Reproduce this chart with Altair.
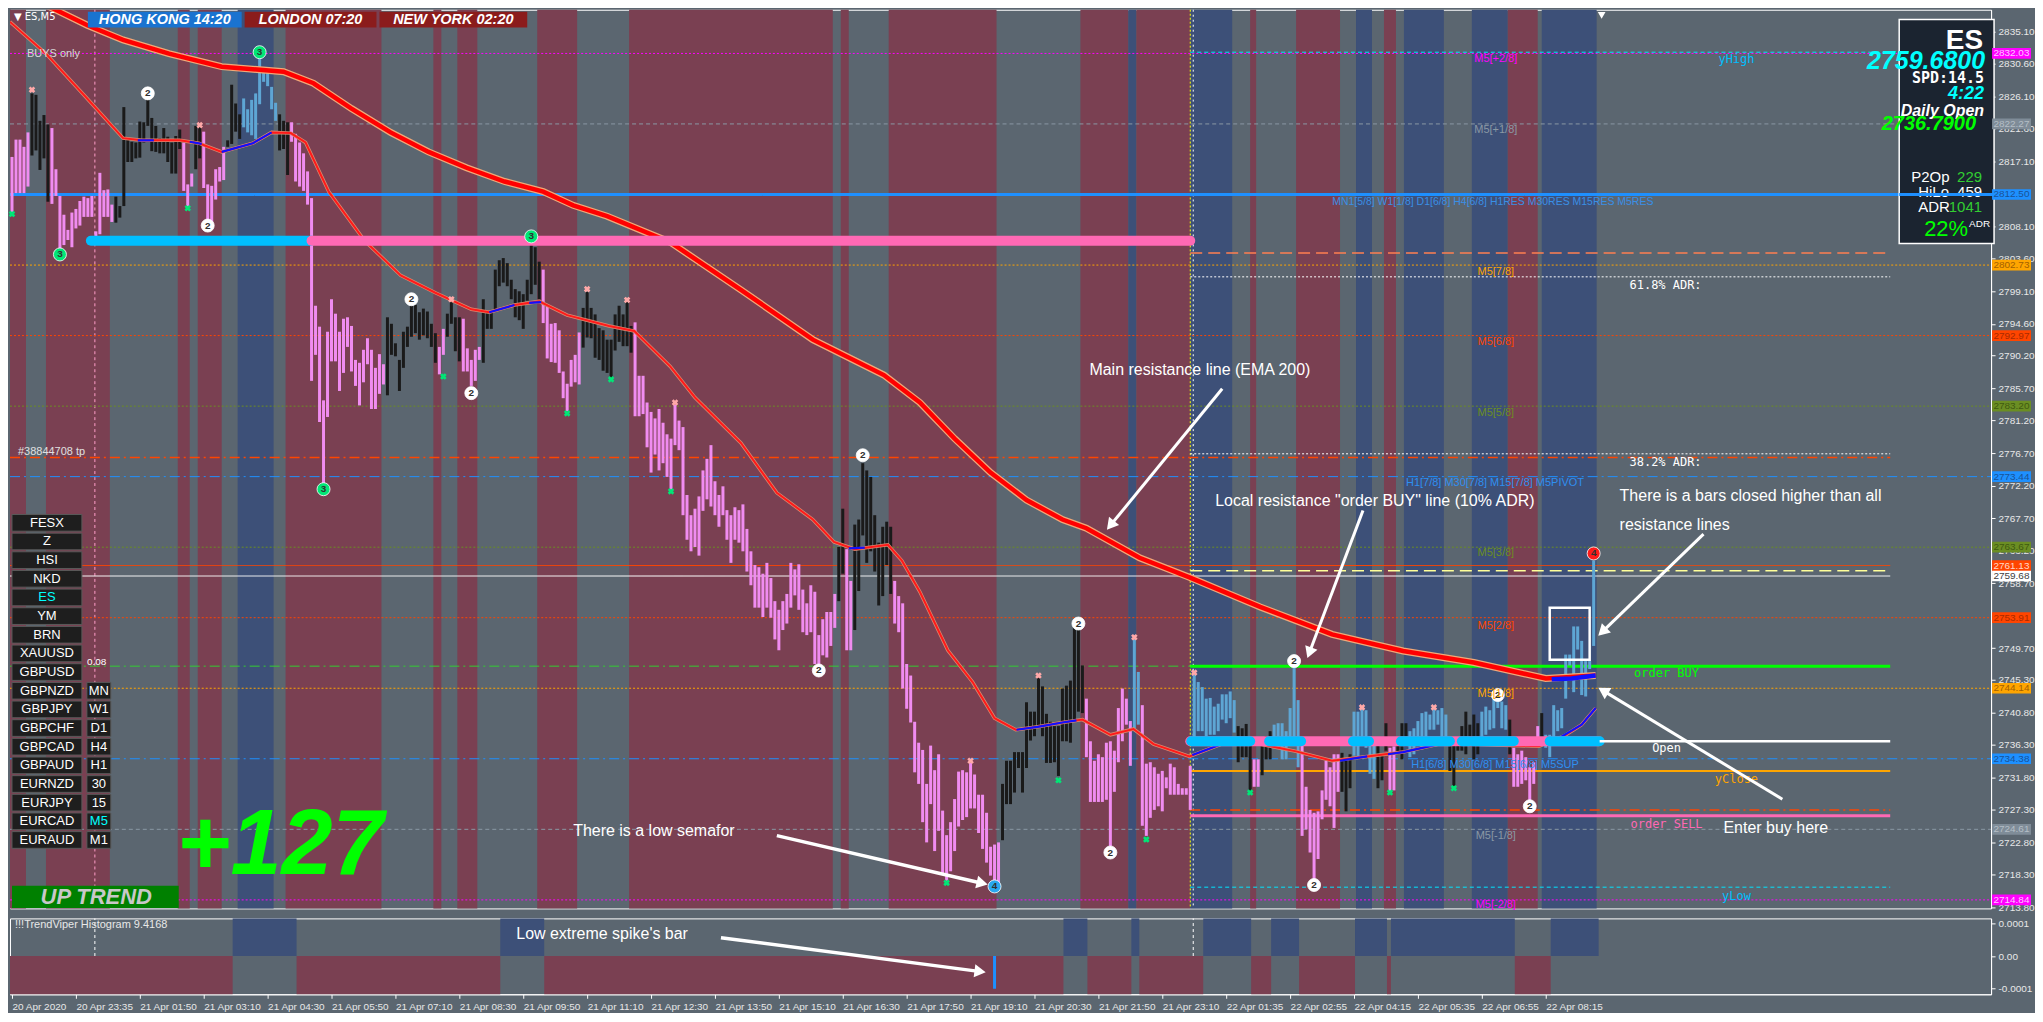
import json
import math
import altair as alt
import pandas as pd

# ------------------------------------------------------------------ data
HIGH = [
    2817.7, 2820.1, 2820.1, 2819.1, 2821.1, 2826.5, 2826.3, 2822.7, 2823.5, 2822.2,
    2821.7, 2816.0, 2812.3, 2809.7, 2807.6, 2810.0, 2810.5, 2811.6, 2812.2, 2812.0,
    2812.3, 2807.4, 2815.5, 2813.1, 2813.2, 2811.1, 2812.2, 2810.9, 2824.6, 2820.3,
    2819.8, 2819.7, 2822.6, 2822.5, 2826.7, 2823.1, 2822.0, 2820.3, 2821.7, 2820.5,
    2819.7, 2820.6, 2821.5, 2819.7, 2813.9, 2815.4, 2822.0, 2822.2, 2821.2, 2813.9,
    2813.7, 2816.0, 2816.3, 2819.1, 2820.0, 2827.7, 2825.1, 2823.6, 2825.8, 2824.3,
    2825.6, 2826.5, 2831.5, 2829.7, 2829.7, 2827.4, 2825.2, 2823.6, 2822.7, 2822.5,
    2822.5, 2820.9, 2819.7, 2818.2, 2815.7, 2812.0, 2797.1, 2794.2, 2784.0, 2793.5,
    2798.0, 2796.0, 2793.5, 2795.3, 2795.5, 2794.3, 2789.6, 2789.2, 2791.0, 2792.6,
    2791.0, 2788.5, 2790.4, 2789.0, 2795.5, 2794.6, 2791.9, 2789.6, 2793.5, 2794.2,
    2797.1, 2797.2, 2796.2, 2796.7, 2796.3, 2794.6, 2793.3, 2791.4, 2793.9, 2796.0,
    2797.6, 2795.5, 2795.5, 2795.3, 2791.2, 2789.6, 2791.0, 2791.4, 2798.0, 2796.4,
    2796.4, 2802.1, 2803.4, 2803.7, 2803.0, 2800.7, 2799.4, 2799.1, 2798.7, 2800.7,
    2805.5, 2805.2, 2803.2, 2802.1, 2797.0, 2794.6, 2794.7, 2793.7, 2788.0, 2786.3,
    2789.6, 2790.3, 2793.4, 2796.8, 2799.0, 2796.8, 2795.9, 2794.0, 2793.7, 2792.4,
    2792.4, 2795.9, 2797.1, 2795.9, 2797.7, 2794.3, 2794.8, 2787.4, 2787.4, 2783.7,
    2782.4, 2781.5, 2782.8, 2780.9, 2779.3, 2778.7, 2783.4, 2781.2, 2780.3, 2770.9,
    2768.1, 2769.0, 2770.7, 2774.3, 2775.9, 2777.8, 2772.8, 2770.9, 2772.1, 2768.8,
    2768.1, 2769.2, 2768.8, 2769.6, 2766.2, 2763.1, 2761.2, 2760.9, 2760.0, 2761.5,
    2759.4, 2756.2, 2755.0, 2756.2, 2757.2, 2761.5, 2760.6, 2761.3, 2757.8, 2755.9,
    2758.4, 2757.5, 2751.5, 2753.7, 2754.7, 2754.7, 2757.2, 2763.7, 2769.0, 2763.4,
    2759.0, 2766.8, 2767.5, 2775.3, 2774.3, 2773.4, 2768.1, 2764.3, 2766.5, 2767.2,
    2766.5, 2759.0, 2756.9, 2755.9, 2747.5, 2745.9, 2739.5, 2736.6, 2735.6, 2730.9,
    2736.2, 2732.8, 2735.0, 2727.2, 2723.8, 2725.6, 2728.8, 2732.6, 2732.8, 2732.5,
    2733.8, 2732.2, 2729.4, 2729.4, 2726.9, 2722.2, 2722.5, 2722.8, 2730.9, 2734.1,
    2734.1, 2735.3, 2735.3, 2735.3, 2742.2, 2740.9, 2740.9, 2745.6, 2744.4, 2740.6,
    2739.5, 2738.9, 2738.9, 2744.1, 2744.5, 2745.2, 2752.7, 2752.5, 2747.3, 2742.7,
    2736.8, 2734.1, 2735.0, 2734.6, 2736.6, 2736.8, 2735.5, 2741.4, 2744.1, 2742.7,
    2739.6, 2751.1, 2746.4, 2741.8, 2733.7, 2733.9, 2733.2, 2732.3, 2732.7, 2731.8,
    2733.7, 2733.2, 2730.9, 2730.3, 2730.3, 2733.4, 2746.6, 2745.0, 2744.3, 2742.7,
    2742.8, 2741.6, 2742.0, 2743.3, 2743.3, 2743.7, 2742.5, 2738.9, 2738.6, 2739.2,
    2736.8, 2734.3, 2734.3, 2736.4, 2737.5, 2738.2, 2739.1, 2739.3, 2739.3, 2738.2,
    2741.4, 2747.3, 2742.5, 2736.8, 2730.5, 2727.3, 2726.9, 2727.1, 2730.0, 2734.1,
    2733.2, 2735.0, 2735.0, 2735.2, 2734.3, 2735.0, 2740.9, 2740.9, 2741.4, 2741.1,
    2737.5, 2736.6, 2736.4, 2735.0, 2739.3, 2735.9, 2736.1, 2737.0, 2739.3, 2739.3,
    2738.2, 2738.6, 2739.6, 2740.7, 2740.9, 2740.5, 2741.4, 2741.1, 2741.4, 2740.5,
    2736.1, 2736.8, 2737.0, 2738.9, 2740.9, 2739.1, 2740.5, 2739.3, 2740.9, 2741.6,
    2741.1, 2742.7, 2743.2, 2742.3, 2741.8, 2739.8, 2735.9, 2735.0, 2735.5, 2734.6,
    2733.2, 2733.9, 2738.9, 2740.7, 2737.7, 2737.7, 2741.8, 2741.1, 2741.4, 2748.8,
    2748.8, 2752.7, 2752.7, 2750.7, 2747.9, 2747.9, 2761.8,
]
LOW = [
    2810.0, 2812.7, 2812.7, 2812.7, 2813.6, 2817.9, 2818.6, 2815.9, 2817.5, 2811.5,
    2811.2, 2812.3, 2804.8, 2805.5, 2806.2, 2805.2, 2807.8, 2808.2, 2809.4, 2809.4,
    2809.4, 2806.4, 2807.0, 2809.4, 2809.4, 2808.7, 2808.6, 2809.3, 2810.9, 2817.0,
    2817.0, 2817.5, 2817.6, 2819.7, 2822.0, 2818.5, 2818.4, 2818.2, 2818.2, 2817.0,
    2815.4, 2815.4, 2818.8, 2813.0, 2810.7, 2813.6, 2816.0, 2817.5, 2813.4, 2808.4,
    2808.4, 2811.8, 2814.3, 2814.5, 2819.1, 2819.5, 2821.2, 2820.2, 2821.8, 2821.1,
    2820.7, 2820.2, 2825.0, 2828.1, 2827.5, 2824.3, 2822.7, 2818.6, 2818.8, 2815.2,
    2819.8, 2814.3, 2813.6, 2813.0, 2811.1, 2786.7, 2790.3, 2781.0, 2772.2, 2781.7,
    2789.4, 2789.4, 2785.3, 2787.8, 2791.4, 2788.0, 2786.0, 2783.3, 2786.5, 2789.0,
    2782.8, 2782.8, 2784.9, 2786.2, 2784.7, 2790.3, 2790.1, 2785.3, 2788.5, 2791.4,
    2792.8, 2793.3, 2792.4, 2793.0, 2792.6, 2791.4, 2789.2, 2787.6, 2790.3, 2792.8,
    2794.6, 2790.8, 2789.4, 2788.0, 2788.0, 2786.0, 2786.7, 2789.6, 2789.2, 2793.9,
    2793.9, 2796.4, 2799.8, 2800.3, 2799.8, 2798.0, 2795.5, 2795.1, 2793.9, 2797.8,
    2798.7, 2800.0, 2798.0, 2794.7, 2789.8, 2789.3, 2789.2, 2787.8, 2784.3, 2782.5,
    2785.9, 2786.5, 2786.2, 2791.3, 2792.7, 2792.6, 2789.9, 2789.6, 2788.1, 2787.8,
    2787.1, 2790.9, 2792.1, 2791.5, 2791.5, 2790.6, 2781.8, 2781.8, 2782.1, 2777.5,
    2774.0, 2776.5, 2774.3, 2775.3, 2773.4, 2771.2, 2777.8, 2777.1, 2768.1, 2764.7,
    2763.1, 2763.7, 2762.5, 2768.7, 2770.3, 2769.3, 2768.1, 2766.5, 2768.1, 2764.7,
    2761.5, 2764.7, 2764.3, 2763.1, 2760.3, 2758.4, 2755.3, 2755.3, 2754.0, 2755.3,
    2753.9, 2750.9, 2749.4, 2752.2, 2753.1, 2755.3, 2757.0, 2755.0, 2751.9, 2751.5,
    2751.9, 2747.5, 2747.2, 2748.7, 2748.4, 2750.0, 2752.5, 2756.2, 2760.0, 2749.4,
    2749.4, 2752.2, 2757.6, 2765.3, 2761.5, 2763.1, 2760.3, 2755.6, 2756.9, 2761.2,
    2757.2, 2753.1, 2751.9, 2744.1, 2741.3, 2739.4, 2732.5, 2730.9, 2725.6, 2722.8,
    2728.1, 2721.6, 2724.4, 2718.5, 2717.5, 2718.8, 2721.6, 2725.0, 2725.9, 2726.3,
    2727.5, 2727.5, 2724.1, 2721.9, 2720.0, 2718.2, 2717.5, 2717.2, 2723.1, 2728.1,
    2728.1, 2729.7, 2733.1, 2729.7, 2733.1, 2736.9, 2737.5, 2738.8, 2737.5, 2733.8,
    2733.8, 2733.9, 2732.0, 2736.8, 2736.8, 2736.6, 2739.6, 2740.9, 2740.7, 2734.6,
    2728.4, 2728.4, 2728.4, 2728.4, 2728.7, 2722.3, 2729.8, 2733.9, 2736.8, 2739.1,
    2733.4, 2738.6, 2739.1, 2725.1, 2723.7, 2726.2, 2727.3, 2727.8, 2727.1, 2730.3,
    2729.4, 2729.4, 2729.4, 2729.4, 2729.4, 2727.3, 2736.4, 2738.2, 2738.2, 2737.5,
    2737.7, 2737.7, 2738.2, 2739.8, 2739.3, 2740.0, 2738.0, 2733.9, 2734.6, 2734.6,
    2729.8, 2730.5, 2730.5, 2732.1, 2734.3, 2734.3, 2735.9, 2736.8, 2734.3, 2734.3,
    2736.8, 2736.6, 2733.2, 2723.7, 2724.6, 2721.4, 2717.3, 2720.5, 2726.0, 2728.7,
    2727.8, 2724.8, 2729.8, 2729.8, 2727.1, 2730.3, 2734.8, 2734.6, 2736.8, 2735.9,
    2732.3, 2731.6, 2730.3, 2731.4, 2735.5, 2729.8, 2730.0, 2735.0, 2734.3, 2736.1,
    2734.6, 2735.0, 2736.4, 2735.7, 2736.8, 2738.4, 2738.4, 2739.1, 2737.1, 2737.1,
    2732.7, 2730.5, 2735.5, 2735.5, 2735.0, 2736.8, 2734.3, 2735.0, 2736.8, 2737.7,
    2738.4, 2738.6, 2741.4, 2738.6, 2738.4, 2735.0, 2730.5, 2730.5, 2730.9, 2731.4,
    2728.4, 2730.9, 2736.8, 2737.3, 2735.9, 2734.6, 2736.8, 2738.2, 2738.6, 2742.7,
    2747.3, 2743.6, 2749.5, 2743.2, 2743.0, 2746.8, 2750.0,
]
# bar kind runs: p = bearish (violet), k = neutral (black), b = bullish (light blue)
KIND_RUNS = [
    ("p", 5), ("k", 5), ("p", 16), ("k", 17), ("p", 3), ("k", 2), ("p", 6), ("k", 4),
    ("b", 9), ("k", 3), ("p", 24), ("k", 13), ("p", 2), ("k", 4), ("p", 5), ("k", 15),
    ("p", 10), ("k", 13), ("p", 51), ("k", 2), ("p", 2), ("k", 10), ("p", 27), ("k", 21),
    ("p", 12), ("b", 2), ("p", 13), ("b", 11), ("k", 4), ("p", 2), ("k", 3), ("b", 7),
    ("p", 10), ("k", 3), ("b", 6), ("k", 3), ("p", 2), ("k", 3), ("b", 10), ("k", 8),
    ("b", 7), ("k", 1), ("p", 7), ("k", 1), ("b", 13),
]

EMA200_X = [8, 19.5, 28.3, 39.8, 53, 61.8, 68.5, 76, 85.5, 95.3, 104.8, 114.3, 123.8,
            133.5, 141, 149.5, 165.3, 183, 201, 218.8, 227.8, 236.5, 245.5, 254.5,
            263.5, 269.5, 282.8, 295.3, 313, 331, 348.8, 366.5, 384.5, 397]
EMA200_Y = [2839.0, 2835.9, 2833.9, 2832.0, 2830.2, 2829.8, 2829.5, 2827.9, 2824.4,
            2821.1, 2818.4, 2816.2, 2814.3, 2812.9, 2811.0, 2809.5, 2805.9, 2799.3,
            2792.4, 2787.5, 2783.7, 2778.7, 2774.0, 2770.2, 2767.5, 2766.3, 2762.2,
            2759.5, 2755.4, 2751.6, 2749.3, 2747.7, 2745.5, 2745.9]
EMA200_BLUE = [(386, 2745.4), (391, 2745.5), (397, 2745.9)]

EMA_X = [0, 9, 18.8, 28.3, 33, 42.5, 47.3, 53, 60.8, 65.5, 70.3, 74, 79.8, 88.8, 97.8,
         106.5, 115.5, 120, 126.3, 132.5, 139.5, 150, 156.3, 165.3, 171.5, 183, 192,
         201, 206.3, 211.5, 219.8, 223.3, 227.8, 234.8, 241, 246.5, 251.8, 257.3,
         263.5, 268.5, 275.5, 281.3, 286.3, 295.3, 303.3, 313, 322, 331, 339.8,
         348.8, 357.8, 366.5, 382.8, 389, 393.5, 397]
EMA_Y = [2836.4, 2832.0, 2826.1, 2820.3, 2820.0, 2820.0, 2819.6, 2818.4, 2819.6,
         2821.1, 2821.0, 2819.7, 2812.9, 2806.1, 2801.3, 2798.9, 2796.6, 2796.2,
         2797.2, 2797.7, 2795.8, 2794.3, 2793.6, 2788.7, 2784.4, 2778.1, 2771.2,
         2767.5, 2764.4, 2763.4, 2764.0, 2761.8, 2757.5, 2749.4, 2745.0, 2740.0,
         2738.4, 2738.8, 2739.4, 2739.8, 2737.7, 2738.5, 2736.4, 2734.7, 2736.4,
         2736.4, 2735.4, 2734.1, 2734.7, 2735.3, 2736.4, 2736.4, 2736.1, 2737.5,
         2739.1, 2741.4]
EMA_BLUE_SEGS = [
    [(32, 2820.0), (36, 2820.0)],
    [(45, 2819.8), (48, 2819.5)],
    [(53, 2818.4), (60.8, 2819.6), (65.5, 2821.1)],
    [(120, 2796.2), (126.3, 2797.2)],
    [(130, 2797.5), (133, 2797.6)],
    [(210, 2763.5), (214, 2763.6)],
    [(252, 2738.4), (257.3, 2738.8), (263.5, 2739.4), (267, 2739.7)],
    [(296, 2734.9), (303.3, 2736.4)],
    [(333, 2734.1), (339.8, 2734.7)],
    [(345, 2735.0), (348.8, 2735.3), (357.8, 2736.4)],
    [(388, 2737.3), (393.5, 2739.1), (397, 2741.4)],
]

# session colour bands (start bar, end bar, state)
BANDS = [(0, 4, "M"), (4, 9, "G"), (9, 25, "M"), (25, 42, "G"), (42, 45, "M"), (45, 47, "G"),
         (47, 53, "M"), (53, 57, "G"), (57, 66, "B"), (66, 69, "G"), (69, 93, "M"),
         (93, 106, "G"), (106, 108, "M"), (108, 112, "G"), (112, 117, "M"), (117, 132, "G"),
         (132, 142, "M"), (142, 155, "G"), (155, 206, "M"), (206, 208, "G"), (208, 210, "M"),
         (210, 220, "G"), (220, 247, "M"), (247, 268, "G"), (268, 280, "M"), (280, 282, "B"),
         (282, 295.5, "M"), (295.5, 306, "B"), (306, 310.5, "G"), (310.5, 312, "M"),
         (312, 322, "G"), (322, 333, "M"), (333, 337, "G"), (337, 341, "B"), (341, 344, "G"),
         (344, 347, "M"), (347, 349, "G"), (349, 359, "B"), (359, 366, "G"), (366, 375, "B"),
         (375, 382.5, "M"), (382.5, 383.5, "G"), (383.5, 397.25, "B")]

HIST_SEG = [(0, 55.75, "dn"), (55.75, 71.75, "up"), (71.75, 122.75, "dn"), (122.75, 133.75, "up"),
            (133.75, 263.75, "dn"), (263.75, 269.75, "up"), (269.75, 280.75, "dn"),
            (280.75, 282.75, "up"), (282.75, 298.75, "dn"), (298.75, 310.75, "up"),
            (310.75, 315.75, "dn"), (315.75, 322.75, "up"), (322.75, 336.75, "dn"),
            (336.75, 344.75, "up"), (344.75, 345.75, "dn"), (345.75, 376.75, "up"),
            (376.75, 385.75, "dn"), (385.75, 397.75, "up")]
HIST_SPIKE = (246, -0.0001)

# horizontal levels: price, span, colour, style, width
LEVELS = [
    (2832.03, "all", "#ff00ff", "dot", 1), (2832.20, "day", "#00e5ff", "dash", 1),
    (2822.27, "all", "#8a98a4", "dash", 1), (2812.50, "all", "#1e90ff", "solid", 3),
    (2804.40, "day", "#ff7f50", "long", 1.5), (2802.73, "all", "#ffa500", "dot", 1),
    (2801.10, "day", "#ffffff", "dot", 1), (2792.97, "all", "#ff4500", "dot", 1),
    (2783.20, "all", "#6b8e23", "dot", 1), (2776.60, "day", "#ffffff", "dot", 1),
    (2776.10, "left", "#ff4500", "dashdot", 1.5), (2773.44, "all", "#1e90ff", "dashdot", 1),
    (2763.67, "all", "#6b8e23", "dot", 1), (2761.13, "left", "#ff4500", "solid", 1),
    (2760.40, "day", "#ffff99", "long", 1.5), (2759.68, "left", "#ffffff", "solid", 1),
    (2753.91, "all", "#ff4500", "dot", 1), (2747.20, "prev", "#32cd32", "dashdot", 1),
    (2747.20, "day", "#00ff00", "solid", 3), (2744.14, "all", "#ffa500", "dot", 1),
    (2734.38, "all", "#1e90ff", "dashdot", 1), (2732.70, "day", "#ffa500", "solid", 2),
    (2727.30, "day", "#ff4500", "dashdot", 1.5), (2726.50, "day", "#ff69b4", "solid", 3),
    (2724.61, "all", "#8a98a4", "dash", 1), (2716.60, "day", "#00e5ff", "dash", 1),
    (2714.84, "all", "#ff00ff", "dot", 1),
]
TAGS = [
    (2832.03, "#ff00ff", "#ffc8ff"), (2822.27, "#7f8c98", "#b4bec6"),
    (2812.50, "#1e90ff", "#1a5296"), (2802.73, "#ffa500", "#a35f00"),
    (2792.97, "#ff4500", "#a82a00"), (2783.20, "#6b8e23", "#3f5a10"),
    (2773.44, "#1e90ff", "#1a5296"), (2763.67, "#6b8e23", "#3f5a10"),
    (2761.13, "#ff4500", "#ffd8c8"), (2759.68, "#ffffff", "#404040"),
    (2753.91, "#ff4500", "#a82a00"), (2744.14, "#ffa500", "#a35f00"),
    (2734.38, "#1e90ff", "#1a5296"), (2724.61, "#7f8c98", "#b4bec6"),
    (2714.84, "#ff00ff", "#ffc8ff"),
]
# thick session lines: price, from bar, to bar, colour key
THICK = [(2806.1, 20.25, 75.5, "c"), (2806.1, 75.5, 295.5, "p"), (2736.8, 295.5, 397.75, "p"),
         (2736.8, 295.75, 310.5, "c"), (2736.8, 315.25, 323.25, "c"), (2736.8, 336.25, 340.25, "c"),
         (2736.8, 348.25, 360.5, "c"), (2736.8, 363.5, 365.25, "c"), (2736.8, 366.25, 376.5, "c"),
         (2736.8, 385.5, 398.0, "c")]
OPEN_LINE = (2736.8, 398.0, 470.75)

SEMAFOR = [(12, 2804.2, "3", "g"), (34, 2826.5, "2", "w"), (62, 2832.2, "3", "g"),
           (49, 2808.2, "2", "w"), (78, 2771.7, "3", "g"), (130, 2806.7, "3", "g"),
           (100, 2798.0, "2", "w"), (115, 2785.0, "2", "w"), (213, 2776.4, "2", "w"),
           (202, 2746.6, "2", "w"), (246, 2716.7, "4", "b"), (267, 2753.1, "2", "w"),
           (275, 2721.4, "2", "w"), (321, 2747.9, "2", "w"), (326, 2716.9, "2", "w"),
           (372, 2743.2, "2", "w"), (380, 2727.8, "2", "w"), (396, 2762.8, "4", "r")]
CROSS_HI = [(5, 2827.0), (47, 2822.1), (110, 2798.0), (144, 2799.4), (154, 2797.9),
            (166, 2783.7), (240, 2734.1), (257, 2745.9), (281, 2751.2), (296, 2746.3),
            (338, 2741.5), (356, 2741.5)]
CROSS_LO = [(0, 2809.8), (44, 2810.6), (108, 2787.3), (139, 2782.2), (150, 2786.9),
            (165, 2771.4), (234, 2717.2), (262, 2731.4), (284, 2723.2), (310, 2729.7),
            (345, 2729.7), (361, 2730.3)]

PRICE_TICKS = [2835.10, 2830.60, 2826.10, 2821.60, 2817.10, 2808.10, 2803.60,
               2799.10, 2794.60, 2790.20, 2785.70, 2781.20, 2776.70, 2772.20, 2767.70,
               2763.20, 2758.70, 2749.70, 2745.30, 2740.80, 2736.30, 2731.80,
               2727.30, 2722.80, 2718.30, 2713.80]
TIME_LABELS = ["20 Apr 2020", "20 Apr 23:35", "21 Apr 01:50", "21 Apr 03:10", "21 Apr 04:30",
               "21 Apr 05:50", "21 Apr 07:10", "21 Apr 08:30", "21 Apr 09:50", "21 Apr 11:10",
               "21 Apr 12:30", "21 Apr 13:50", "21 Apr 15:10", "21 Apr 16:30", "21 Apr 17:50",
               "21 Apr 19:10", "21 Apr 20:30", "21 Apr 21:50", "21 Apr 23:10", "22 Apr 01:35",
               "22 Apr 02:55", "22 Apr 04:15", "22 Apr 05:35", "22 Apr 06:55", "22 Apr 08:15"]
SYMBOLS = ["FESX", "Z", "HSI", "NKD", "ES", "YM", "BRN", "XAUUSD", "GBPUSD", "GBPNZD",
           "GBPJPY", "GBPCHF", "GBPCAD", "GBPAUD", "EURNZD", "EURJPY", "EURCAD", "EURAUD"]
TIMEFRAMES = ["MN", "W1", "D1", "H4", "H1", "30", "15", "M5", "M1"]

# ------------------------------------------------------------------ layout / style
W, XMAX = 1984, 496
H_MAIN, H_HIST = 900, 76
P_TOP, P_BOT = 2838.08, 2713.66
H_TOP, H_BOT = 0.000115, -0.000117
DAY0, TAGX = 295.5, 470.75
SPANS = {"all": (0, XMAX), "day": (DAY0, TAGX), "left": (0, TAGX), "prev": (0, DAY0)}
DASH = {"dot": [2, 2], "dash": [4, 3], "long": [12, 6], "dashdot": [10, 4, 2, 4], "solid": [1, 0]}
BG, MAROON, BLUE = "#5b6670", "#7a4052", "#3d5078"
BAND_COL = {"M": MAROON, "B": BLUE, "G": BG}
BAR_COL = {"p": "#f08cf0", "k": "#1a1a1a", "b": "#5ea6d4"}
THICK_COL = {"p": "#ff69b4", "c": "#00bfff"}
SEMA_COL = {"w": "#ffffff", "g": "#00e676", "b": "#29a8f0", "r": "#ff1a1a"}
SANS, MONO = "Liberation Sans", "DejaVu Sans Mono"

XS = alt.Scale(domain=[0, XMAX], nice=False, zero=False)
YS = alt.Scale(domain=[P_BOT, P_TOP], nice=False, zero=False)
HS = alt.Scale(domain=[H_BOT, H_TOP], nice=False, zero=False)

YAXIS = alt.Axis(orient="right", values=PRICE_TICKS, format=".2f", title=None, grid=False,
                 labelColor="#e8e8e8", labelFont=SANS, labelFontSize=10, tickColor="#ffffff",
                 tickSize=4, domainColor="#ffffff", labelPadding=3, labelOverlap=False,
                 labelFlush=False)
TAXIS = alt.Axis(orient="bottom", values=[16 * k + 0.5 for k in range(len(TIME_LABELS))],
                 labelExpr=json.dumps(TIME_LABELS) + "[round((datum.value - 0.5) / 16)]",
                 title=None, grid=False, labelAlign="left", labelPadding=3, labelColor="#e8e8e8",
                 labelFont=SANS, labelFontSize=10, tickColor="#ffffff", tickSize=4,
                 domainColor="#ffffff", labelOverlap=False, labelFlush=False, labelBound=False)
HAXIS = alt.Axis(orient="right", values=[0.0001, 0, -0.0001],
                 labelExpr="datum.value > 0.00005 ? '0.0001' : (datum.value < -0.00005 ? '-0.0001' : '0.00')",
                 title=None, grid=False, labelColor="#e8e8e8", labelFont=SANS, labelFontSize=10,
                 tickColor="#ffffff", tickSize=4, domainColor="#ffffff", labelPadding=3)


def mx(f="x"):
    return alt.X(f"{f}:Q", scale=XS, axis=None)


def my(f="y"):
    return alt.Y(f"{f}:Q", scale=YS, axis=YAXIS)


def hx(f="x"):
    return alt.X(f"{f}:Q", scale=XS, axis=TAXIS)


def hy(f="y"):
    return alt.Y(f"{f}:Q", scale=HS, axis=HAXIS)


def raw(f="c"):
    return alt.Color(f"{f}:N", scale=None)


def text(x, y, s, color="#ffffff", size=12, font=SANS, weight="normal", style="normal",
         align="left", baseline="middle", hist=False):
    df = pd.DataFrame({"x": [x], "y": [y], "t": [s]})
    return alt.Chart(df).mark_text(align=align, baseline=baseline, color=color, fontSize=size,
                                   font=font, fontWeight=weight, fontStyle=style).encode(
        x=hx() if hist else mx(), y=hy() if hist else my(), text="t:N")


def arrow(x1, y1, x2, y2, width=3.0, head=170, hist=False):
    ppx = W / XMAX
    ppy = (H_HIST / (H_TOP - H_BOT)) if hist else (H_MAIN / (P_TOP - P_BOT))
    dxp, dyp = (x2 - x1) * ppx, -(y2 - y1) * ppy
    L = math.hypot(dxp, dyp)
    ux, uy = dxp / L, dyp / L
    ang = math.degrees(math.atan2(ux, -uy)) % 360
    r = math.sqrt(head) / 2
    cx, cy = x2 - ux * r / ppx, y2 + uy * r / ppy
    lx, ly = x2 - ux * r * 1.2 / ppx, y2 + uy * r * 1.2 / ppy
    xe, ye = (hx, hy) if hist else (mx, my)
    line = alt.Chart(pd.DataFrame({"x": [x1], "y": [y1], "x2": [lx], "y2": [ly]})).mark_rule(
        color="#ffffff", strokeWidth=width).encode(x=xe(), y=ye(), x2="x2:Q", y2="y2:Q")
    tip = alt.Chart(pd.DataFrame({"x": [cx], "y": [cy]})).mark_point(
        shape="triangle-up", filled=True, size=head, angle=ang, color="#ffffff", opacity=1).encode(
        x=xe(), y=ye())
    return [line, tip]


main = []

# background session bands
bdf = pd.DataFrame(BANDS, columns=["x", "x2", "k"])
bdf = bdf[bdf.k != "G"].copy()
bdf["c"] = bdf.k.map(BAND_COL)
main.append(alt.Chart(bdf).mark_rect().encode(
    x=mx(), x2="x2:Q", y=alt.value(0), y2=alt.value(H_MAIN), color=raw()))

# vertical separators
for xv, col, dash in [(21.25, "#ff9ec8", [3, 3]), (DAY0, "#ffff00", [2, 2]), (296.25, "#ffffff", [2, 3])]:
    main.append(alt.Chart(pd.DataFrame({"x": [xv]})).mark_rule(
        color=col, strokeDash=dash, strokeWidth=1).encode(x=mx()))

# horizontal level lines
ldf = pd.DataFrame([{"y": p, "x": SPANS[s][0], "x2": SPANS[s][1], "c": c, "st": st, "w": w}
                    for p, s, c, st, w in LEVELS])
for st, dash in DASH.items():
    sub = ldf[ldf.st == st]
    if len(sub):
        main.append(alt.Chart(sub).mark_rule(strokeDash=dash).encode(
            x=mx(), x2="x2:Q", y=my(), color=raw(),
            strokeWidth=alt.StrokeWidth("w:Q", scale=None)))

# price bars
kinds = "".join(k * n for k, n in KIND_RUNS)
bars = pd.DataFrame({"x": [i + 0.5 for i in range(len(HIGH))], "y": LOW, "y2": HIGH, "k": list(kinds)})
bars["c"] = bars.k.map(BAR_COL)
main.append(alt.Chart(bars).mark_rule(strokeWidth=3).encode(x=mx(), y=my(), y2="y2:Q", color=raw()))

# moving averages
ema = pd.DataFrame({"x": EMA_X, "y": EMA_Y})
main.append(alt.Chart(ema).mark_line(color="#d88a70", strokeWidth=3.5, clip=True).encode(x=mx(), y=my()))
main.append(alt.Chart(ema).mark_line(color="#ff1a1a", strokeWidth=2, clip=True).encode(x=mx(), y=my()))
seg_rows = [{"x": px, "y": py, "s": i} for i, seg in enumerate(EMA_BLUE_SEGS) for px, py in seg]
main.append(alt.Chart(pd.DataFrame(seg_rows)).mark_line(color="#1010ff", strokeWidth=2.2).encode(
    x=mx(), y=my(), detail="s:N"))
e200 = pd.DataFrame({"x": EMA200_X, "y": EMA200_Y})
main.append(alt.Chart(e200).mark_line(color="#f0a878", strokeWidth=7, clip=True).encode(x=mx(), y=my()))
main.append(alt.Chart(e200).mark_line(color="#ff0000", strokeWidth=4.5, clip=True).encode(x=mx(), y=my()))
main.append(alt.Chart(pd.DataFrame(EMA200_BLUE, columns=["x", "y"])).mark_line(
    color="#1010ff", strokeWidth=4.5).encode(x=mx(), y=my()))

# thick session open lines
tdf = pd.DataFrame(THICK, columns=["y", "x", "x2", "k"])
tdf["c"] = tdf.k.map(THICK_COL)
main.append(alt.Chart(tdf).mark_rule(strokeWidth=10, strokeCap="round").encode(
    x=mx(), x2="x2:Q", y=my(), color=raw()))
main.append(alt.Chart(pd.DataFrame([OPEN_LINE], columns=["y", "x", "x2"])).mark_rule(
    strokeWidth=2.5, color="#ffffff").encode(x=mx(), x2="x2:Q", y=my()))

# swing crosses
for pts, col in [(CROSS_HI, "#ffa8a8"), (CROSS_LO, "#00e676")]:
    main.append(alt.Chart(pd.DataFrame(pts, columns=["b", "y"])).transform_calculate(
        x="datum.b + 0.5").mark_point(shape="cross", angle=45, filled=True, size=45, color=col,
                                      opacity=1).encode(x=mx(), y=my()))

# semafor circles
sdf = pd.DataFrame(SEMAFOR, columns=["b", "y", "t", "k"])
sdf["c"] = sdf.k.map(SEMA_COL)
main.append(alt.Chart(sdf).transform_calculate(x="datum.b + 0.5").mark_point(
    shape="circle", filled=True, size=170, opacity=1, stroke="#ffffff", strokeWidth=0.8).encode(
    x=mx(), y=my(), fill=alt.Fill("c:N", scale=None)))
main.append(alt.Chart(sdf).transform_calculate(x="datum.b + 0.5").mark_text(
    fontSize=10, fontWeight="bold", font=SANS, color="#303030").encode(x=mx(), y=my(), text="t:N"))

# level captions
for y, s, c in [(2831.2, "M5[+2/8]", "#ff00ff"), (2821.4, "M5[+1/8]", "#8a98a4"),
                (2801.8, "M5[7/8]", "#ffa500"), (2792.1, "M5[6/8]", "#ff4500"),
                (2782.3, "M5[5/8]", "#6b8e23"), (2762.8, "M5[3/8]", "#6b8e23"),
                (2752.7, "M5[2/8]", "#ff4500"), (2743.3, "M5[1/8]", "#ffa500"),
                (2723.7, "M5[-1/8]", "#8a98a4"), (2714.1, "M5[-2/8]", "#ff00ff")]:
    main.append(text(372, y, s, color=c, size=11, align="center"))
main.append(text(371.25, 2811.5, "MN1[5/8] W1[1/8] D1[6/8] H4[6/8] H1RES M30RES M15RES M5RES",
                 color="#3a8fe6", size=10.5, align="center"))
main.append(text(371.8, 2772.5, "H1[7/8] M30[7/8] M15[7/8] M5PIVOT", color="#2f8ff0", size=11, align="center"))
main.append(text(371.8, 2733.5, "H1[6/8] M30[6/8] M15[6/8] M5SUP", color="#2f8ff0", size=11, align="center"))
for x, y, s, c in [(432.25, 2831.2, "yHigh", "#00bfff"), (414.5, 2800.0, "61.8% ADR:", "#ffffff"),
                   (414.5, 2775.5, "38.2% ADR:", "#ffffff"), (414.75, 2746.2, "order BUY", "#00ff00"),
                   (414.75, 2735.8, "Open", "#ffffff"), (432.25, 2731.6, "yClose", "#ffa500"),
                   (414.75, 2725.4, "order SELL", "#ff69b4"), (432.25, 2715.4, "yLow", "#00bfff")]:
    main.append(text(x, y, s, color=c, size=12, font=MONO, align="center"))
main.append(text(1, 2837.1, "▼ ES,M5", color="#ffffff", size=10, font="DejaVu Sans"))
main.append(text(4.25, 2832.0, "BUYS only", color="#d8d8d8", size=11))
main.append(text(2, 2776.8, "#38844708 tp", color="#e0e0e0", size=11))
main.append(text(19.25, 2747.8, "0.08", color="#ffffff", size=10))

# session clocks
sess = pd.DataFrame([(19.5, 58.0, "#1a73d0", "HONG KONG  14:20"), (58.75, 91.75, "#8b1c1c", "LONDON   07:20"),
                     (92.5, 129.5, "#8b1c1c", "NEW YORK  02:20")], columns=["x", "x2", "c", "t"])
sess["y"], sess["y2"] = 2835.63, 2837.81
main.append(alt.Chart(sess).mark_rect().encode(x=mx(), x2="x2:Q", y=my(), y2="y2:Q", color=raw()))
main.append(alt.Chart(sess).transform_calculate(xm="(datum.x + datum.x2) / 2", ym="2836.72").mark_text(
    fontSize=14.5, font=SANS, fontWeight="bold", fontStyle="italic", color="#ffffff").encode(
    x=mx("xm"), y=my("ym"), text="t:N"))

# symbol / timeframe selector
ROW0, STEP, ROWH = 2768.2, 2.583, 2.31
sym = pd.DataFrame({"t": SYMBOLS, "k": range(len(SYMBOLS))})
sym["y2"] = ROW0 - STEP * sym.k
sym["y"] = sym.y2 - ROWH
sym["ym"] = sym.y2 - ROWH / 2
sym["x"], sym["x2"], sym["xm"] = 0.5, 18.0, 9.25
sym["c"] = ["#00ffff" if s == "ES" else "#ffffff" for s in SYMBOLS]
tfs = pd.DataFrame({"t": TIMEFRAMES, "k": range(9, 9 + len(TIMEFRAMES))})
tfs["y2"] = ROW0 - STEP * tfs.k
tfs["y"] = tfs.y2 - ROWH
tfs["ym"] = tfs.y2 - ROWH / 2
tfs["x"], tfs["x2"], tfs["xm"] = 19.25, 25.25, 22.25
tfs["c"] = ["#00ffff" if s == "M5" else "#ffffff" for s in TIMEFRAMES]
for d in (sym, tfs):
    main.append(alt.Chart(d).mark_rect(fill="#1e1e1e", stroke="#5a5a5a", strokeWidth=1).encode(
        x=mx(), x2="x2:Q", y=my(), y2="y2:Q"))
    main.append(alt.Chart(d).mark_text(fontSize=13, font=SANS).encode(
        x=mx("xm"), y=my("ym"), text="t:N", color=raw()))

# profit and trend badges
main.append(text(41.75, 2718.4, "+127", color="#00ff00", size=92, weight="bold", style="italic",
                 baseline="alphabetic"))
main.append(alt.Chart(pd.DataFrame({"x": [0.5], "x2": [42.25], "y": [2713.7], "y2": [2716.8]})).mark_rect(
    color="#008000").encode(x=mx(), x2="x2:Q", y=my(), y2="y2:Q"))
main.append(text(21.6, 2715.2, "UP TREND", color="#c8c8c8", size=22, weight="bold", style="italic",
                 align="center"))

# info panel
main.append(alt.Chart(pd.DataFrame({"x": [473], "x2": [496.75], "y": [2805.72], "y2": [2836.72]})).mark_rect(
    fill="#1b2430", stroke="#ffffff", strokeWidth=1.5).encode(x=mx(), x2="x2:Q", y=my(), y2="y2:Q"))
for x, y, s, c, sz, fnt, wt, sty, al in [
    (494.0, 2832.7, "ES", "#ffffff", 28, SANS, "bold", "normal", "right"),
    (494.5, 2829.9, "2759.6800", "#00ffff", 25, SANS, "bold", "italic", "right"),
    (494.25, 2827.9, "SPD:14.5", "#ffffff", 15, MONO, "bold", "normal", "right"),
    (494.25, 2825.7, "4:22", "#00ffff", 18, SANS, "bold", "italic", "right"),
    (494.25, 2823.4, "Daily Open", "#ffffff", 16, SANS, "bold", "italic", "right"),
    (492.25, 2821.4, "2736.7900", "#00ff00", 20, SANS, "bold", "italic", "right"),
    (476.0, 2814.3, "P2Op", "#ffffff", 15, SANS, "normal", "normal", "left"),
    (493.75, 2814.3, "229", "#32cd32", 15, SANS, "normal", "normal", "right"),
    (477.75, 2812.1, "HiLo", "#ffffff", 15, SANS, "normal", "normal", "left"),
    (493.75, 2812.1, "459", "#ffffff", 15, SANS, "normal", "normal", "right"),
    (477.75, 2810.1, "ADR", "#ffffff", 15, SANS, "normal", "normal", "left"),
    (493.75, 2810.1, "1041", "#32cd32", 15, SANS, "normal", "normal", "right"),
    (479.25, 2806.7, "22%", "#00ff00", 22, SANS, "normal", "normal", "left"),
    (490.5, 2808.0, "ADR", "#ffffff", 10, SANS, "normal", "normal", "left"),
]:
    main.append(text(x, y, s, color=c, size=sz, font=fnt, weight=wt, style=sty, align=al,
                     baseline="alphabetic"))
main.append(alt.Chart(pd.DataFrame({"x": [473], "x2": [496.75], "y": [2812.50]})).mark_rule(
    color="#1e90ff", strokeWidth=3).encode(x=mx(), x2="x2:Q", y=my()))

# annotations
main.append(text(270.25, 2788.2, "Main resistance line (EMA 200)", size=16))
main.append(text(301.75, 2770.1, 'Local resistance "order BUY" line (10% ADR)', size=16))
main.append(text(403, 2770.8, "There is a bars closed higher than all", size=16))
main.append(text(403, 2766.7, "resistance lines", size=16))
main.append(text(429, 2724.8, "Enter buy here", size=16))
main.append(text(141, 2724.4, "There is a low semafor", size=16))
main += arrow(303.5, 2785.6, 274.5, 2766.0)
main += arrow(338.75, 2768.74, 324.75, 2748.21)
main += arrow(424.0, 2765.48, 397.5, 2751.34)
main += arrow(443.75, 2728.77, 397.5, 2744.27)
main += arrow(192.0, 2723.74, 245.0, 2716.94, width=3.5)
main.append(alt.Chart(pd.DataFrame({"x": [385.5], "x2": [395.5], "y": [2748.1], "y2": [2755.3]})).mark_rect(
    filled=False, stroke="#ffffff", strokeWidth=2.5).encode(x=mx(), x2="x2:Q", y=my(), y2="y2:Q"))
main.append(alt.Chart(pd.DataFrame({"x": [398.5], "y": [2837.3]})).mark_point(
    shape="triangle-down", filled=True, size=60, color="#ffffff", opacity=1).encode(x=mx(), y=my()))

# price tags on the axis
tg = pd.DataFrame(TAGS, columns=["p", "bg", "fg"])
tg["y"], tg["y2"] = tg.p - 0.74, tg.p + 0.74
tg["x"], tg["x2"], tg["xm"] = 496.25, 506.0, 501.1
tg["t"] = tg.p.map(lambda v: f"{v:.2f}")
main.append(alt.Chart(tg).mark_rect().encode(x=mx(), x2="x2:Q", y=my(), y2="y2:Q", color=raw("bg")))
main.append(alt.Chart(tg).mark_text(fontSize=10, font=SANS).encode(
    x=mx("xm"), y=my("p"), text="t:N", color=raw("fg")))

main_chart = alt.layer(*main).properties(width=W, height=H_MAIN)

# ------------------------------------------------------------------ histogram panel
hist = []
hdf = pd.DataFrame(HIST_SEG, columns=["x", "x2", "s"])
up = hdf[hdf.s == "up"].assign(y=0.0, y2=H_TOP)
dn = hdf[hdf.s == "dn"].assign(y=H_BOT, y2=0.0)
hist.append(alt.Chart(up).mark_rect(color=BLUE).encode(x=hx(), x2="x2:Q", y=hy(), y2="y2:Q"))
hist.append(alt.Chart(dn).mark_rect(color=MAROON).encode(x=hx(), x2="x2:Q", y=hy(), y2="y2:Q"))
vl = pd.DataFrame({"x": [21.25, 296.25], "y": [0.0, 0.0], "y2": [H_TOP, H_TOP]})
hist.append(alt.Chart(vl).mark_rule(color="#ffffff", strokeDash=[3, 3]).encode(x=hx(), y=hy(), y2="y2:Q"))
hist.append(alt.Chart(pd.DataFrame({"x": [HIST_SPIKE[0] + 0.5], "y": [0.0], "y2": [HIST_SPIKE[1]]})).mark_rule(
    color="#1e90ff", strokeWidth=3).encode(x=hx(), y=hy(), y2="y2:Q"))
hist.append(text(1.25, 0.000094, "!!!TrendViper Histogram 9.4168", color="#e8e8e8", size=11, hist=True))
hist.append(text(126.75, 0.0000676, "Low extreme spike's bar", size=16, hist=True))
hist += arrow(178.0, 0.0000559, 244.5, -0.00005, width=3.5, hist=True)
hist_chart = alt.layer(*hist).properties(width=W, height=H_HIST)

chart = alt.vconcat(main_chart, hist_chart, spacing=4).properties(
    padding={"left": 0, "top": 0, "right": 0, "bottom": 0}
).configure(background=BG).configure_view(stroke="#ffffff", strokeWidth=1)

chart.save("out.html", embed_options={"renderer": "svg", "actions": False})
